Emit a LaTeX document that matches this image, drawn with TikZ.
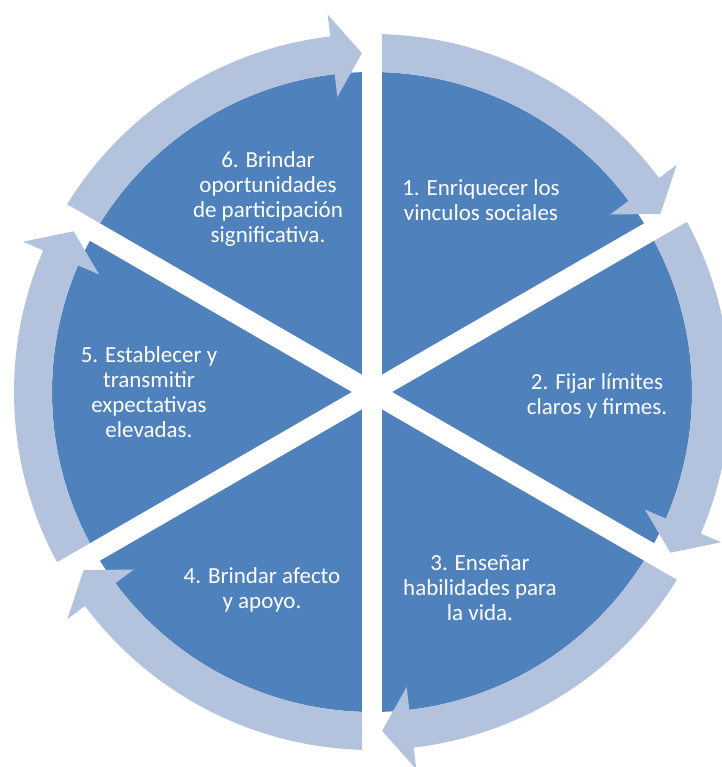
\documentclass[tikz,border=0pt]{standalone}
\usepackage{fontspec}
\setmainfont{Carlito}
\usepackage{tikz}
\usetikzlibrary{positioning, calc}
\definecolor{segblue}{HTML}{4F81BD}
\definecolor{ringblue}{HTML}{B3C2DD}
\tikzstyle{segtext} = [text=white, align=center, inner sep=0pt, font=\fontsize{23}{25}\selectfont]
\tikzstyle{ringarrow} = [fill=ringblue, draw=none]
\tikzstyle{gapline} = [white, line width=20pt]

\begin{document}
\begin{tikzpicture}
        \useasboundingbox (-372pt,-375pt) rectangle (349pt,392pt);
        \coordinate (hub) at (0,0);
        \fill [segblue] (hub) circle (320pt);

        % ring of six arrows, clockwise
        \foreach \a in {90,30,...,-210}{
            \pgfmathsetmacro{\tip}{\a-60+1.7}
            \pgfmathsetmacro{\base}{\a-60+6.7}
            \fill [ringarrow] (\a:358pt) arc[start angle=\a, end angle=\base, radius=358pt]
                -- (\base:380pt) -- (\tip:339pt) -- (\base:297pt) -- (\base:320pt)
                arc[start angle=\base, end angle=\a, radius=320pt] -- cycle;
        }
        \foreach \a in {90,30,-30}
            \draw [gapline] (\a:400pt) -- (\a+180:400pt);

        \node (step1) [segtext] at (109pt,192pt) {1. Enriquecer los\\vinculos sociales};
        \node (step2) [segtext] at (225pt,-4pt) {2. Fijar límites\\claros y firmes.};
        \node (step3) [segtext] at (108pt,-196pt) {3. Enseñar\\habilidades para\\la vida.};
        \node (step4) [segtext] at (-110pt,-198pt) {4. Brindar afecto\\y apoyo.};
        \node (step5) [segtext] at (-223pt,0pt) {5. Establecer y\\transmitir\\expectativas\\elevadas.};
        \node (step6) [segtext] at (-104pt,193pt) {6. Brindar\\oportunidades\\de participación\\significativa.};
\end{tikzpicture}
\end{document}
